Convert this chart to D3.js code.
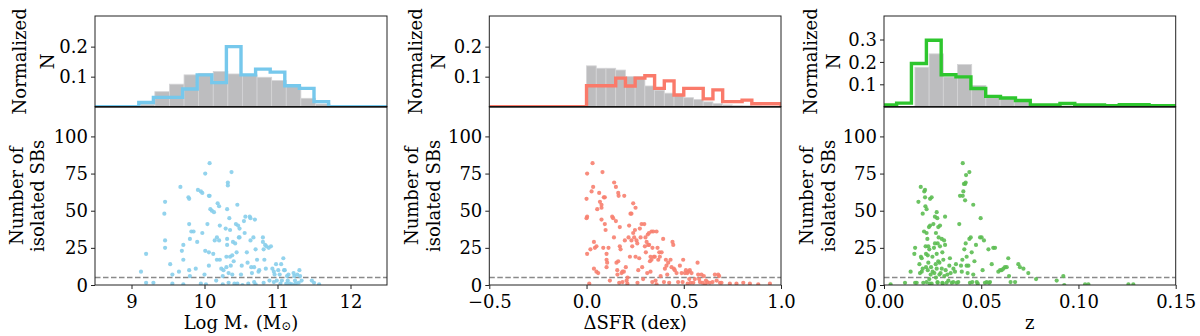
<!DOCTYPE html>
<html><head><meta charset="utf-8">
<script src="https://cdn.jsdelivr.net/npm/d3@7"></script>
<style>
body{margin:0;background:#fff;}
svg text{font-family:"DejaVu Serif",serif;fill:#000;}
</style></head>
<body><svg id="c" width="1200" height="336"></svg>
<script>
// ---------------- DATA ----------------
// Panel 1: stellar mass
const massEdges = [9.1,9.3,9.5,9.7,9.9,10.1,10.3,10.5,10.7,10.9,11.1,11.3,11.5,11.7];
const massSB    = [0.014,0.031,0.031,0.059,0.106,0.080,0.200,0.106,0.125,0.115,0.070,0.061,0.017];
const massGrayEdges = [9.12,9.32,9.52,9.72,9.92,10.12,10.32,10.52,10.72,10.92,11.12,11.32,11.52,11.72];
const massGray  = [0.008,0.050,0.075,0.106,0.111,0.117,0.109,0.106,0.098,0.087,0.067,0.028,0.009];
const massX = [9.13,9.2,9.2,9.3,9.45,9.46,9.46,9.46,9.53,9.56,9.56,9.65,9.67,9.69,9.71,9.71,9.71,9.78,9.79,9.79,9.8,9.79,9.8,9.82,9.85,9.88,9.9,9.91,9.95,9.97,9.97,10.0,10.01,10.01,10.04,10.06,10.07,10.06,10.06,10.07,10.08,10.1,10.12,10.13,10.14,10.16,10.17,10.17,10.18,10.2,10.2,10.21,10.21,10.23,10.25,10.26,10.29,10.3,10.3,10.31,10.31,10.31,10.32,10.32,10.33,10.33,10.34,10.35,10.35,10.36,10.37,10.38,10.38,10.39,10.4,10.41,10.42,10.43,10.44,10.45,10.46,10.47,10.48,10.48,10.5,10.51,10.52,10.54,10.55,10.56,10.58,10.59,10.6,10.62,10.63,10.63,10.64,10.65,10.67,10.68,10.68,10.69,10.7,10.72,10.74,10.75,10.8,10.8,10.81,10.81,10.82,10.83,10.84,10.85,10.88,10.89,10.91,10.93,10.95,10.96,10.98,10.99,11.01,11.03,11.04,11.05,11.06,11.08,11.09,11.1,11.13,11.14,11.15,11.17,11.2,11.22,11.23,11.24,11.25,11.27,11.29,11.3,11.31,11.33,11.47,11.5,11.57,10.02,10.45,10.7,10.95,11.12,9.95,10.25];
const massN = [9,21,1.5,1.5,48,56,30,25,14,7,1,9,66,23,27,17,0.5,59,58,41,31,10,6,36,36,11,29,64,63,62,35,7,75,23,41,60,60,22,13,82,51,50,21,49,30,3,32,17,55,53,30,40,17,11,6,10,38,19,12,31,51,27,69,67,8,1.5,45,37,19,13,76,20,7,29,16,1,28,41,22,54,40,32,32,38,7,13,0,43,35,46,22,15,1,46,45,30,12,8,32,12,2,44,24,17,9,10,32,29,24,1.5,17,27,11,26,25,3,26,11,9,7,14,3,10,7,1,14,3,18,10,10,6,3,7,1,0.5,8,6,3,1,7,1.5,10,6,3,3,1.5,0.5,0.5,1,0.5,2,1,1,0.5];

// Panel 2: Delta SFR
const sfrEdges = [0,0.05,0.1,0.15,0.2,0.25,0.3,0.35,0.4,0.45,0.5,0.55,0.6,0.65,0.7,0.75,0.8,0.85,0.9,0.95,1.0];
const sfrSB    = [0.070,0.070,0.070,0.095,0.069,0.095,0.103,0.061,0.086,0.039,0.061,0.061,0.026,0.056,0.017,0.017,0.022,0.010,0.010,0.010];
const sfrGray  = [0.136,0.128,0.128,0.122,0.100,0.100,0.069,0.055,0.045,0.038,0.030,0.024,0.016,0.010,0.006,0.004,0.003,0.002,0.001,0.001];
const sfrX = [0.0,0.0,0.003,0.003,0.003,0.014,0.02,0.026,0.031,0.034,0.038,0.038,0.043,0.051,0.051,0.055,0.06,0.065,0.069,0.077,0.077,0.077,0.082,0.086,0.089,0.094,0.094,0.098,0.103,0.103,0.106,0.103,0.113,0.12,0.132,0.137,0.141,0.142,0.151,0.151,0.154,0.158,0.159,0.163,0.163,0.165,0.168,0.171,0.171,0.175,0.18,0.185,0.185,0.192,0.194,0.197,0.202,0.206,0.211,0.216,0.219,0.223,0.226,0.231,0.231,0.235,0.24,0.24,0.245,0.249,0.252,0.252,0.257,0.261,0.262,0.266,0.271,0.274,0.278,0.283,0.286,0.291,0.297,0.3,0.303,0.305,0.309,0.312,0.315,0.317,0.321,0.322,0.326,0.329,0.329,0.334,0.334,0.338,0.339,0.343,0.346,0.351,0.355,0.36,0.365,0.369,0.374,0.377,0.381,0.386,0.394,0.398,0.403,0.408,0.411,0.415,0.42,0.425,0.432,0.437,0.442,0.446,0.449,0.454,0.463,0.471,0.48,0.489,0.494,0.497,0.506,0.511,0.518,0.523,0.528,0.531,0.535,0.54,0.549,0.557,0.571,0.574,0.579,0.583,0.591,0.597,0.603,0.614,0.621,0.634,0.648,0.66,0.669,0.677,0.682,0.686,0.694,0.737,0.771,0.806,0.84,0.883,0.943,0.21,0.36,0.52,0.61];
const sfrN = [58,45,46,21,75,1,24,63,82,66,29,11,25,9,26,51,8,62,56,54,52,44,76,25,59,59,41,37,21,17,15,12,25,3,46,45,32,69,66,43,15,10,7,62,16,60,1.5,26,39,24,8,9,2,9,60,30,12,3,5,32,40,19,48,48,30,26,55,35,32,37,52,19,30,28,1.5,10,18,38,32,41,12,4,41,26,32,22,29,8,34,27,35,27,16,19,9,36,17,2,25,36,19,19,3,36,25,17,22,19,6,22,31,2,11,17,13,7,15,1.5,17,12,29,27,11,10,8,2,13,8,2,17,8,10,8,9,4,10,1.5,8,1.5,4,15,7,4,2,7,1.5,6,3,2,1.5,2,7,3,7,6,1.5,1.5,1,1,1.5,1,0.5,1,1,0.5,1,0.5];

// Panel 3: redshift
const zEdges = [-0.0011,0.0065,0.0141,0.0218,0.0294,0.0370,0.0447,0.0523,0.0599,0.0676,0.0752,0.0828,0.0905,0.0981,0.1057,0.1134,0.1210,0.1286,0.1363,0.1439,0.1515];
const zSB    = [0.008,0.016,0.193,0.297,0.143,0.133,0.081,0.046,0.039,0.028,0.008,0.008,0.014,0.008,0.008,0.004,0.009,0.009,0.004,0.004];
const zGrayEdges = [0.0159,0.0232,0.0305,0.0378,0.0451,0.0524,0.0597,0.0670,0.0743];
const zGray  = [0.176,0.236,0.133,0.188,0.095,0.048,0.042,0.026];
const zX = [0.0034,0.0108,0.0137,0.0156,0.016,0.016,0.0168,0.0177,0.0182,0.0185,0.0189,0.019,0.0194,0.0194,0.0199,0.0199,0.0202,0.0206,0.0207,0.0211,0.0211,0.0213,0.0214,0.0216,0.0216,0.0219,0.0219,0.0219,0.0223,0.0225,0.0225,0.0228,0.0228,0.0231,0.0233,0.0233,0.0237,0.0237,0.024,0.0242,0.0245,0.0245,0.0249,0.025,0.0254,0.0257,0.0259,0.0262,0.0262,0.0266,0.0267,0.0267,0.0271,0.0271,0.0271,0.0274,0.0276,0.0276,0.0279,0.0279,0.0281,0.0285,0.0285,0.0288,0.0288,0.0291,0.0297,0.0297,0.03,0.03,0.0305,0.0309,0.031,0.0314,0.0314,0.0317,0.0322,0.0326,0.0331,0.0336,0.0339,0.0343,0.0348,0.0357,0.0365,0.037,0.0374,0.0382,0.0387,0.0391,0.0396,0.04,0.0403,0.0405,0.0405,0.0408,0.0411,0.0413,0.0417,0.0417,0.042,0.042,0.0422,0.0425,0.0425,0.043,0.0434,0.0439,0.0439,0.0442,0.0446,0.0451,0.0454,0.0459,0.0459,0.0465,0.0473,0.0477,0.0482,0.0494,0.0497,0.0502,0.0507,0.0514,0.0519,0.0528,0.0537,0.054,0.0545,0.0554,0.0562,0.0571,0.0588,0.0597,0.0605,0.0614,0.0622,0.0631,0.0639,0.0643,0.0651,0.0674,0.0691,0.0699,0.0717,0.0742,0.0782,0.0888,0.0922,0.0927,0.1034,0.1051,0.1257,0.1282,0.0235,0.0275,0.0302,0.0356];
const zN = [0.5,1.5,9,21,25,1.5,1.5,56,14,8,66,19,18,9,48,11,1.5,36,63,64,59,53,26,21,12,51,35,2,31,20,10,26,15,39,24,4,58,40,7,12,59,1,19,9,41,25,8,46,28,14,35,5,49,21,11,45,28,1.5,39,16,32,15,7,40,26,8,11,31,22,1.5,17,30,6,46,27,10,1.5,7,3,13,18,8,1.5,11,9,14,1.5,2,41,60,13,9,17,82,60,63,68,24,68,57,69,28,74,19,13,8,13,76,31,1.5,32,22,2,54,7,16,27,2,1,32,45,32,10,30,1.5,2,24,1.5,2,14,25,25,9,10,10,11,12,12,18,6,2,2,14,12,11,8,4,3,6,0,0.5,0.5,0.5,0.5,1,2,1,2];

const yTicksTop12 = [0.1,0.2];
const yTicksTop3  = [0.1,0.2,0.3];
const yTicksBottom = [0,25,50,75,100];
const massTicks = [9,10,11,12];
const sfrTicks = [-0.5,0.0,0.5,1.0];
const zTicks = [0.00,0.05,0.10,0.15];
const threshold = 5;

// ---------------- LAYOUT ----------------
const svg = d3.select("#c");
const yTopPx = 16, yMidPx = 106.7, yBotPx = 285;

const panels = [
  {left:95,   right:387,    xdom:[8.5,12.5], ytop:[0,0.302], yticks:yTicksTop12, xticks:massTicks, xfmt:d3.format("d"),
   sbEdges:massEdges, sb:massSB, gEdges:massGrayEdges, g:massGray, px:massX, py:massN,
   line:"#76c8ec", dot:"#87ceeb", xlabel:"mass"},
  {left:489.3, right:781,   xdom:[-0.5,1.0], ytop:[0,0.302], yticks:yTicksTop12, xticks:sfrTicks, xfmt:d3.format(".1f"),
   sbEdges:sfrEdges, sb:sfrSB, gEdges:sfrEdges, g:sfrGray, px:sfrX, py:sfrN,
   line:"#fa7a6a", dot:"#f7806f", xlabel:"ΔSFR (dex)"},
  {left:884,  right:1175.7, xdom:[0,0.15], ytop:[0,0.405], yticks:yTicksTop3, xticks:zTicks, xfmt:d3.format(".2f"),
   sbEdges:zEdges, sb:zSB, gEdges:zGrayEdges, g:zGray, px:zX, py:zN,
   line:"#2ec62e", dot:"#5cbc52", xlabel:"z"}
];

panels.forEach((p,i)=>{
  const g = svg.append("g");
  const x = d3.scaleLinear().domain(p.xdom).range([p.left,p.right]);
  const yt = d3.scaleLinear().domain(p.ytop).range([yMidPx,yTopPx]);
  const yb = d3.scaleLinear().domain([0,120]).range([yBotPx,yMidPx]);

  const cid = "clipT"+i, cidb="clipB"+i;
  const defs = g.append("defs");
  defs.append("clipPath").attr("id",cid).append("rect")
    .attr("x",p.left).attr("y",yTopPx).attr("width",p.right-p.left).attr("height",yMidPx-yTopPx);
  defs.append("clipPath").attr("id",cidb).append("rect")
    .attr("x",p.left).attr("y",yMidPx).attr("width",p.right-p.left).attr("height",yBotPx-yMidPx);

  // gray filled histogram
  const gt = g.append("g").attr("clip-path",`url(#${cid})`);
  gt.selectAll("rect.gray").data(p.g).join("rect")
    .attr("x",(d,k)=>x(p.gEdges[k]))
    .attr("width",(d,k)=>x(p.gEdges[k+1])-x(p.gEdges[k]))
    .attr("y",d=>yt(d)).attr("height",d=>yt(0)-yt(d))
    .attr("fill","#bdbdbf").attr("stroke","#d4d4d6").attr("stroke-width",0.8);

  // step line
  const pts = [[p.xdom[0],0],[p.sbEdges[0],0]];
  p.sb.forEach((v,k)=>{pts.push([p.sbEdges[k],v]);pts.push([p.sbEdges[k+1],v]);});
  pts.push([p.sbEdges[p.sbEdges.length-1],0]); pts.push([p.xdom[1],0]);
  gt.append("path").attr("d",d3.line().x(d=>x(d[0])).y(d=>yt(d[1]))(pts))
    .attr("fill","none").attr("stroke",p.line).attr("stroke-width",3.4)
    .attr("stroke-linejoin","miter");

  // scatter
  const gb = g.append("g").attr("clip-path",`url(#${cidb})`);
  gb.append("line").attr("x1",p.left).attr("x2",p.right)
    .attr("y1",yb(threshold)).attr("y2",yb(threshold))
    .attr("stroke","#8a8a8a").attr("stroke-width",1.5).attr("stroke-dasharray","5.5,2.5");
  gb.selectAll("circle").data(p.px).join("circle")
    .attr("cx",d=>x(d)).attr("cy",(d,k)=>yb(p.py[k])).attr("r",2.1)
    .attr("fill",p.dot).attr("opacity",0.9);

  // axes
  const axT = g.append("g").attr("transform",`translate(${p.left},0)`)
    .call(d3.axisLeft(yt).tickValues(p.yticks).tickSize(4).tickPadding(3).tickFormat(d3.format(".1f")));
  const axB = g.append("g").attr("transform",`translate(${p.left},0)`)
    .call(d3.axisLeft(yb).tickValues(yTicksBottom).tickSize(4).tickPadding(3).tickFormat(d3.format("d")));
  const axX = g.append("g").attr("transform",`translate(0,${yBotPx})`)
    .call(d3.axisBottom(x).tickValues(p.xticks).tickSize(4).tickPadding(6).tickFormat(p.xfmt));
  [axT,axB,axX].forEach(a=>{
    a.select(".domain").remove();
    a.selectAll("text").attr("font-size",18).attr("font-family","DejaVu Serif").attr("fill","#000");
    a.selectAll("line").attr("stroke","#222");
  });
  axT.selectAll("text").attr("dy","0.34em");
  axB.selectAll("text").attr("dy","0.34em");
  axX.selectAll("text").attr("dy","0.72em");

  // frames
  g.append("rect").attr("x",p.left).attr("y",yTopPx).attr("width",p.right-p.left).attr("height",yMidPx-yTopPx)
    .attr("fill","none").attr("stroke","#222").attr("stroke-width",1);
  g.append("rect").attr("x",p.left).attr("y",yMidPx).attr("width",p.right-p.left).attr("height",yBotPx-yMidPx)
    .attr("fill","none").attr("stroke","#222").attr("stroke-width",1);
  g.append("line").attr("x1",p.left).attr("x2",p.right).attr("y1",yMidPx+0.3).attr("y2",yMidPx+0.3)
    .attr("stroke","#000").attr("stroke-width",1);

  // y labels
  const yc1 = (yTopPx+yMidPx)/2, yc2 = (yMidPx+yBotPx)/2;
  const off1 = i===0 ? [-76,-48] : [-74,-51];
  const off2 = i===0 ? [-79,-58] : [-78,-56];
  [["Normalized",off1[0],yc1],["N",off1[1],yc1],["Number of",off2[0],yc2],["isolated SBs",off2[1],yc2]].forEach(t=>{
    g.append("text").attr("transform",`translate(${p.left+t[1]},${t[2]}) rotate(-90)`)
      .attr("text-anchor","middle").attr("dominant-baseline","central")
      .attr("font-size",18).text(t[0]);
  });

  // x label
  const xl = g.append("text").attr("x",(p.left+p.right)/2).attr("y",322)
    .attr("text-anchor","middle").attr("dominant-baseline","central").attr("font-size",18);
  if(p.xlabel==="mass"){
    xl.append("tspan").text("Log M");
    xl.append("tspan").attr("font-size",12).attr("dy",4).text("⋆");
    xl.append("tspan").attr("dy",-4).text(" (M");
    xl.append("tspan").attr("font-size",12).attr("dy",4).text("⊙");
    xl.append("tspan").attr("dy",-4).text(")");
  } else xl.text(p.xlabel);
});
</script></body></html>
